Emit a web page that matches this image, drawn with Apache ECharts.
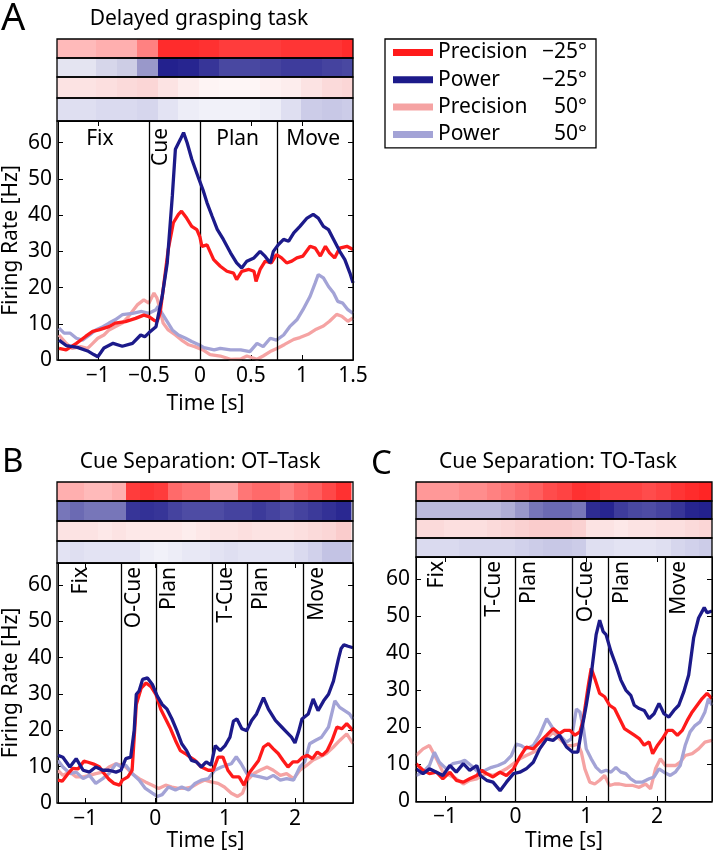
<!DOCTYPE html>
<html><head><meta charset="utf-8">
<script src="https://cdn.jsdelivr.net/npm/echarts/dist/echarts.min.js"></script>
<style>html,body{margin:0;padding:0;background:#fff}#c{width:714px;height:853px}</style>
</head><body><div id="c"></div>
<script>
// ================= DATA =================
const seriesNames = ['Precision \u221225\u00b0', 'Power \u221225\u00b0', 'Precision 50\u00b0', 'Power 50\u00b0'];
const yTicks = [0, 10, 20, 30, 40, 50, 60];
const xTicksA = [-1, -0.5, 0, 0.5, 1, 1.5];
const xTicksBC = [-1, 0, 1, 2];
const panelTitles = ['Delayed grasping task', 'Cue Separation: OT\u2013Task', 'Cue Separation: TO-Task'];
const panelLetters = ['A', 'B', 'C'];
const epochLabelsA = ['Fix', 'Cue', 'Plan', 'Move'];
const epochLabelsB = ['Fix', 'O-Cue', 'Plan', 'T-Cue', 'Plan', 'Move'];
const epochLabelsC = ['Fix', 'T-Cue', 'Plan', 'O-Cue', 'Plan', 'Move'];
const epochLinesA = [-0.5, 0, 0.76];
const epochLinesB = [-0.49, 0.01, 0.82, 1.32, 2.12];
const epochLinesC = [-0.5, 0.0, 0.8, 1.31, 2.12];

// firing rates [time s, Hz]
const A_prec25 = [[-1.38,3.2],[-1.31,2.8],[-1.21,4.6],[-1.12,6.5],[-1.05,7.9],[-0.99,8.3],[-0.89,9.2],[-0.83,10.2],[-0.73,10.6],[-0.63,11.5],[-0.55,12.4],[-0.5,12],[-0.45,11],[-0.42,10.6],[-0.39,12.9],[-0.36,19.4],[-0.31,30.5],[-0.26,37.9],[-0.21,40.2],[-0.18,41.1],[-0.13,39.2],[-0.08,36.9],[-0.03,36],[0.0,34],[0.02,31.4],[0.07,31.8],[0.135,27.7],[0.2,25.9],[0.265,24.5],[0.33,24],[0.36,22.2],[0.41,24.5],[0.48,25],[0.53,24.5],[0.55,21.7],[0.59,25],[0.64,27.3],[0.7,26.8],[0.75,29.1],[0.8,28.2],[0.85,26.8],[0.9,27.3],[0.95,28.2],[1.01,28.7],[1.08,31.4],[1.13,30.9],[1.18,28.7],[1.23,31.4],[1.27,29.6],[1.32,28.2],[1.37,30.9],[1.44,31.4],[1.5,30.5]];
const A_pow25 = [[-1.38,5.5],[-1.31,4.0],[-1.2,3.5],[-1.1,2.5],[-1.04,1.5],[-1.0,0.9],[-0.94,3.3],[-0.85,4.6],[-0.76,3.8],[-0.66,4.6],[-0.58,6.9],[-0.54,6.4],[-0.5,7.5],[-0.43,9.2],[-0.41,12],[-0.37,17.5],[-0.32,26.8],[-0.27,45.3],[-0.24,58.2],[-0.19,61],[-0.16,62.8],[-0.125,60],[-0.08,55.5],[-0.01,50],[0.03,47],[0.07,43.4],[0.12,39.7],[0.17,36.1],[0.23,33.3],[0.3,29.6],[0.36,26.8],[0.41,25.4],[0.46,27.3],[0.53,28.2],[0.59,30],[0.64,28.6],[0.69,26.8],[0.72,30],[0.77,31.9],[0.82,33.3],[0.87,32.8],[0.92,35.1],[0.98,36.9],[1.05,39.2],[1.11,40.2],[1.16,39.2],[1.21,36.9],[1.26,36],[1.31,33.3],[1.37,30],[1.42,27.7],[1.47,24],[1.5,21.3]];
const A_prec50 = [[-1.38,6.9],[-1.31,4.6],[-1.25,3.2],[-1.17,3.7],[-1.1,3.2],[-1.05,4.6],[-1.0,6.0],[-0.94,6.9],[-0.89,8.3],[-0.83,9.2],[-0.76,10.2],[-0.7,12],[-0.61,15.3],[-0.55,16.6],[-0.5,15.7],[-0.45,18.5],[-0.42,17.1],[-0.39,13.9],[-0.36,10.2],[-0.31,8.3],[-0.24,6.9],[-0.18,5.5],[-0.11,4.2],[-0.05,3.7],[0.03,2.8],[0.1,1.5],[0.2,1.1],[0.3,0.2],[0.4,0.3],[0.46,1.1],[0.56,0.2],[0.62,1.1],[0.7,2.5],[0.77,3.4],[0.83,4.3],[0.92,5.7],[0.98,6.2],[1.06,7.1],[1.14,8.5],[1.21,9.4],[1.27,10.7],[1.34,12.6],[1.39,12.1],[1.45,10.7],[1.5,11.6]];
const A_pow50 = [[-1.38,8.8],[-1.33,7.4],[-1.27,7.4],[-1.21,6.0],[-1.15,5.5],[-1.08,6.9],[-1.02,8.3],[-0.95,9.2],[-0.89,10.2],[-0.83,11.1],[-0.76,12.5],[-0.66,12.9],[-0.57,13.4],[-0.5,12.9],[-0.43,13.9],[-0.41,14.8],[-0.37,12.9],[-0.32,10.6],[-0.27,8.3],[-0.21,6.9],[-0.14,6.0],[-0.08,5.1],[-0.01,4.2],[0.04,3.4],[0.14,2.8],[0.2,3.2],[0.3,2.8],[0.4,2.8],[0.49,2.3],[0.56,4.6],[0.62,3.7],[0.69,6.0],[0.75,5.5],[0.82,6.9],[0.88,9.2],[0.95,11.1],[1.01,13.9],[1.08,17.6],[1.13,21.3],[1.16,23.6],[1.21,22.7],[1.26,20.3],[1.31,18.5],[1.35,16.2],[1.4,15.7],[1.45,13.9],[1.5,12.9]];

const B_prec25 = [[-1.39,6.3],[-1.33,6.0],[-1.25,8.0],[-1.18,9.5],[-1.1,9.4],[-1.02,11.5],[-0.96,11.2],[-0.88,10.7],[-0.8,10.0],[-0.73,8.1],[-0.66,6.5],[-0.59,5.4],[-0.51,4.9],[-0.47,6.3],[-0.39,7.2],[-0.33,9.0],[-0.27,27.1],[-0.2,31.6],[-0.13,33],[-0.06,32],[0.01,29.9],[0.08,25.8],[0.15,23.1],[0.22,20.4],[0.29,17.2],[0.36,14.4],[0.43,13.6],[0.5,12.6],[0.57,11.7],[0.66,9.9],[0.76,9.0],[0.83,9.0],[0.9,12.6],[0.97,12.6],[1.04,9.0],[1.11,7.2],[1.2,7.2],[1.27,4.9],[1.34,8.1],[1.41,9.9],[1.48,11.7],[1.55,15.4],[1.62,16.3],[1.69,14.9],[1.76,13.6],[1.83,11.7],[1.9,9.9],[1.97,11.3],[2.04,11.3],[2.11,12.6],[2.18,13.1],[2.25,12.2],[2.32,14],[2.39,13.1],[2.46,14.4],[2.53,17.2],[2.6,20.9],[2.67,20.4],[2.74,21.8],[2.83,19.9]];
const B_pow25 = [[-1.39,13.1],[-1.32,12.6],[-1.22,9.9],[-1.13,12.2],[-1.03,9.0],[-0.94,8.5],[-0.85,9.9],[-0.75,9.0],[-0.66,9.0],[-0.56,8.5],[-0.49,9.0],[-0.42,12.2],[-0.35,12.6],[-0.3,20],[-0.27,29.9],[-0.23,30.8],[-0.18,34],[-0.11,34.4],[-0.04,32.6],[0.03,29.4],[0.1,27.1],[0.17,25.8],[0.24,23.1],[0.31,19.9],[0.38,16.3],[0.45,14.4],[0.52,11.7],[0.59,11.3],[0.66,9.9],[0.73,11.3],[0.8,10.4],[0.86,15.8],[0.93,14.4],[1.0,15.8],[1.07,18.1],[1.12,22.5],[1.17,23.1],[1.24,20.4],[1.31,19.9],[1.38,22.7],[1.45,24.5],[1.55,29],[1.62,25.8],[1.72,22.7],[1.81,20.9],[1.88,19.5],[1.95,18.1],[2.0,16.5],[2.05,19.5],[2.1,23.1],[2.19,24.5],[2.26,28.6],[2.33,25.4],[2.41,28.1],[2.48,29.9],[2.55,33.5],[2.62,39.5],[2.66,42.5],[2.7,43.5],[2.76,43.1],[2.83,42.7]];
const B_prec50 = [[-1.39,9],[-1.32,7.6],[-1.22,8.5],[-1.13,7.2],[-1.03,7.2],[-0.94,7.6],[-0.85,8.1],[-0.75,8.5],[-0.66,9.9],[-0.56,10.8],[-0.49,10.4],[-0.42,9.9],[-0.33,8.1],[-0.23,6.7],[-0.14,5.8],[-0.04,4.9],[0.05,4.0],[0.15,4.9],[0.24,4.4],[0.33,4.0],[0.43,4.0],[0.52,4.4],[0.61,5.4],[0.71,6.3],[0.8,5.8],[0.9,5.4],[0.99,4.4],[1.09,2.7],[1.18,1.8],[1.25,2.7],[1.32,6.3],[1.41,8.1],[1.5,9],[1.6,9.9],[1.69,9],[1.79,7.6],[1.88,8.1],[1.98,6.7],[2.07,9],[2.17,10.4],[2.26,11.8],[2.36,12.7],[2.45,13.6],[2.55,15.4],[2.64,17.2],[2.74,19],[2.83,16.3]];
const B_pow50 = [[-1.39,11.7],[-1.32,9.9],[-1.22,8.1],[-1.13,8.5],[-1.03,6.7],[-0.94,7.6],[-0.85,5.4],[-0.75,6.7],[-0.66,8.1],[-0.56,10.8],[-0.49,9.9],[-0.42,10.4],[-0.33,8.1],[-0.23,6.3],[-0.14,4],[-0.04,2.7],[0.03,1.8],[0.1,2.3],[0.19,4.4],[0.29,3.6],[0.38,4.4],[0.48,3.6],[0.57,5.4],[0.66,6.3],[0.76,6.7],[0.85,9],[0.95,9.9],[1.02,10.4],[1.09,10.8],[1.16,12.7],[1.23,10.8],[1.31,8.1],[1.4,7.6],[1.5,7.2],[1.6,6.7],[1.69,7.6],[1.79,6.3],[1.88,6.7],[1.98,6.3],[2.07,9.9],[2.14,11.3],[2.21,16.3],[2.29,17.2],[2.38,18.1],[2.48,20.9],[2.57,28.1],[2.64,26.3],[2.71,25.4],[2.78,24.5],[2.83,23.1]];

const C_prec25 = [[-1.41,10.1],[-1.31,8.3],[-1.22,7.4],[-1.12,7.8],[-1.03,6.0],[-0.93,7.8],[-0.84,5.6],[-0.74,5.1],[-0.65,6.0],[-0.55,6.9],[-0.48,8.3],[-0.41,7.4],[-0.32,6.5],[-0.22,7.8],[-0.13,6.9],[-0.03,8.7],[0.06,11.9],[0.15,14.6],[0.25,14.1],[0.34,15.9],[0.44,17.8],[0.53,19.6],[0.62,18.2],[0.69,19.1],[0.77,19.1],[0.84,17.8],[0.91,18.7],[0.96,22.3],[1.03,31.4],[1.07,35.9],[1.12,33.2],[1.19,29.1],[1.26,28.2],[1.33,25.9],[1.4,25],[1.47,22.3],[1.54,19.6],[1.61,18.7],[1.68,17.8],[1.75,16.9],[1.82,15.1],[1.89,16.0],[1.94,12.8],[2.01,15.1],[2.08,16.9],[2.15,19.1],[2.22,19.1],[2.29,17.8],[2.36,19.1],[2.43,21.8],[2.5,24.1],[2.57,25.9],[2.64,27.7],[2.71,29.1],[2.78,27.7]];
const C_pow25 = [[-1.41,8.7],[-1.31,7.4],[-1.22,8.7],[-1.12,7.8],[-1.03,6.9],[-0.93,9.6],[-0.84,7.8],[-0.74,10.1],[-0.65,8.3],[-0.55,9.6],[-0.5,6.9],[-0.41,5.6],[-0.32,5.1],[-0.22,2.8],[-0.13,5.1],[-0.03,7.4],[0.06,7.8],[0.15,8.7],[0.25,10.5],[0.34,14.1],[0.44,16.8],[0.53,16.4],[0.62,17.8],[0.72,14.6],[0.81,13.2],[0.88,13.2],[0.93,18.7],[1.0,25.9],[1.07,34.1],[1.14,45],[1.19,48.9],[1.24,45.8],[1.28,45],[1.35,40.4],[1.42,36.8],[1.49,32.7],[1.56,30],[1.63,28.6],[1.68,25.9],[1.75,25],[1.82,24.5],[1.89,22.3],[1.96,23.6],[2.03,26.4],[2.1,23.6],[2.17,22.7],[2.24,24.5],[2.31,25.9],[2.38,29.5],[2.45,34.1],[2.52,44.1],[2.59,49.5],[2.67,52.3],[2.71,50.9],[2.78,51.4]];
const C_prec50 = [[-1.41,12.3],[-1.31,14.1],[-1.22,15],[-1.12,11.4],[-1.03,7.8],[-0.93,6.9],[-0.84,6.0],[-0.74,4.6],[-0.65,5.6],[-0.55,6.0],[-0.48,6.9],[-0.41,7.4],[-0.32,6.9],[-0.22,7.8],[-0.13,8.7],[-0.03,10.1],[0.06,11.4],[0.15,12.3],[0.25,13.2],[0.34,14.1],[0.44,16.8],[0.53,18.7],[0.62,16.8],[0.72,15.0],[0.81,15.0],[0.88,15.4],[0.93,13.2],[0.98,8.7],[1.05,5.1],[1.12,4.6],[1.19,5.6],[1.26,6.9],[1.33,4.2],[1.4,4.6],[1.47,4.6],[1.56,4.2],[1.66,4.2],[1.75,3.7],[1.84,4.6],[1.91,3.3],[1.98,8.7],[2.05,11.4],[2.12,9.6],[2.19,9.6],[2.26,9.6],[2.33,10.5],[2.4,12.3],[2.5,12.8],[2.59,14.1],[2.68,15.9],[2.78,16.4]];
const C_pow50 = [[-1.41,6.9],[-1.31,7.8],[-1.22,9.6],[-1.15,13.2],[-1.08,10.5],[-0.98,8.7],[-0.89,10.1],[-0.79,10.5],[-0.72,11.0],[-0.63,9.6],[-0.53,7.8],[-0.43,8.3],[-0.34,9.1],[-0.25,9.6],[-0.15,10.5],[-0.06,12.3],[0.01,15.4],[0.08,15.0],[0.15,14.1],[0.25,15.0],[0.34,17.8],[0.44,22.3],[0.53,19.6],[0.62,17.8],[0.72,15.9],[0.79,16.8],[0.86,24.9],[0.91,24.1],[0.96,19.6],[1.0,14.1],[1.07,11.4],[1.14,9.1],[1.21,7.8],[1.28,8.3],[1.35,7.8],[1.42,9.1],[1.49,7.8],[1.56,7.4],[1.63,6.0],[1.7,5.1],[1.79,5.1],[1.89,6.0],[1.96,6.5],[2.03,8.7],[2.1,7.8],[2.19,6.9],[2.26,7.8],[2.33,9.6],[2.4,15.0],[2.47,18.7],[2.54,20.4],[2.61,21.4],[2.68,24.1],[2.73,27.7],[2.78,25.9]];

// raster dot density per 0.2 s bin (0 = empty, 1 = solid), rows: Precision -25, Power -25, Precision 50, Power 50
const rasterBinsA = [-1.4,-1.2,-1.0,-0.8,-0.6,-0.4,-0.2,0.0,0.2,0.4,0.6,0.8,1.0,1.2,1.4];
const rasterBinsBC = [-1.4,-1.2,-1.0,-0.8,-0.6,-0.4,-0.2,0.0,0.2,0.4,0.6,0.8,1.0,1.2,1.4,1.6,1.8,2.0,2.2,2.4,2.6];
const A_rasterPrec25 = [0.3,0.3,0.35,0.35,0.55,0.92,0.92,0.9,0.85,0.85,0.85,0.88,0.88,0.88,0.92];
const A_rasterPow25  = [0.12,0.12,0.18,0.22,0.45,0.97,0.95,0.88,0.8,0.8,0.82,0.85,0.85,0.82,0.8];
const A_rasterPrec50 = [0.3,0.3,0.35,0.4,0.45,0.3,0.2,0.12,0.1,0.1,0.15,0.2,0.3,0.4,0.45];
const A_rasterPow50  = [0.35,0.35,0.4,0.4,0.45,0.3,0.2,0.15,0.15,0.15,0.2,0.35,0.55,0.6,0.55];
const B_rasterPrec25 = [0.35,0.35,0.3,0.3,0.35,0.85,0.88,0.85,0.65,0.6,0.6,0.4,0.4,0.6,0.65,0.65,0.55,0.65,0.7,0.8,0.9];
const B_rasterPow25  = [0.6,0.65,0.6,0.6,0.6,0.88,0.9,0.88,0.82,0.78,0.78,0.78,0.82,0.82,0.86,0.82,0.78,0.82,0.86,0.9,0.94];
const B_rasterPrec50 = [0.3,0.3,0.3,0.25,0.3,0.25,0.25,0.25,0.25,0.2,0.25,0.3,0.3,0.35,0.3,0.3,0.3,0.35,0.4,0.45,0.55];
const B_rasterPow50  = [0.3,0.35,0.3,0.3,0.3,0.3,0.2,0.15,0.2,0.25,0.25,0.3,0.35,0.3,0.3,0.3,0.3,0.4,0.5,0.65,0.65];
const C_rasterPrec25 = [0.45,0.45,0.45,0.5,0.5,0.55,0.6,0.65,0.7,0.78,0.82,0.9,0.88,0.82,0.82,0.82,0.78,0.82,0.88,0.92,0.95];
const C_rasterPow25  = [0.3,0.3,0.3,0.3,0.3,0.3,0.35,0.45,0.6,0.65,0.65,0.6,0.92,0.95,0.85,0.8,0.78,0.82,0.88,0.95,0.97];
const C_rasterPrec50 = [0.4,0.4,0.35,0.35,0.35,0.4,0.45,0.5,0.55,0.55,0.55,0.5,0.3,0.3,0.25,0.3,0.3,0.35,0.35,0.4,0.45];
const C_rasterPow50  = [0.4,0.4,0.4,0.45,0.45,0.45,0.45,0.5,0.55,0.6,0.6,0.55,0.35,0.35,0.3,0.3,0.3,0.35,0.45,0.5,0.55];

// ================= LAYOUT / STYLE =================
const COLORS = ['#ff1a1a', '#1c1a8a', '#f5a3a3', '#a3a3d6'];
const FONT = 'Noto Sans';
const FS = 21;
const YMAX = 66;
const panels = [
  { left: 57, right: 353, rows: [39, 58, 77, 98, 121], bottom: 360, xMin: -1.39, xMax: 1.5, xTicks: xTicksA,
    lines: [A_prec25, A_pow25, A_prec50, A_pow50], raster: [A_rasterPrec25, A_rasterPow25, A_rasterPrec50, A_rasterPow50], bins: rasterBinsA,
    epochs: epochLinesA, epochLabels: epochLabelsA, yName: 'Firing Rate [Hz]', xNameGap: 34,
    labelPos: [{t: -0.98, rot: false}, {t: -0.5, rot: true, dx: 2, dy: 7}, {t: 0.37, rot: false}, {t: 1.11, rot: false}],
    letter: {x: 1, y: 19, size: 38}, title: {x: 199, y: 19} },
  { left: 57, right: 353, rows: [482, 501, 521, 541, 563], bottom: 803, xMin: -1.39, xMax: 2.83, xTicks: xTicksBC,
    lines: [B_prec25, B_pow25, B_prec50, B_pow50], raster: [B_rasterPrec25, B_rasterPow25, B_rasterPrec50, B_rasterPow50], bins: rasterBinsBC,
    epochs: epochLinesB, epochLabels: epochLabelsB, yName: 'Firing Rate [Hz]', xNameGap: 22,
    labelPos: [{t: -1.39, rot: true, dx: 13, dy: 4}, {t: -0.49, rot: true, dx: 3, dy: 4}, {t: 0.01, rot: true, dx: 3, dy: 4}, {t: 0.82, rot: true, dx: 3, dy: 4}, {t: 1.32, rot: true, dx: 3, dy: 4}, {t: 2.12, rot: true, dx: 3, dy: 4}],
    letter: {x: 2, y: 463, size: 33}, title: {x: 200, y: 462} },
  { left: 416, right: 712, rows: [482, 501, 519, 538, 557], bottom: 802, xMin: -1.41, xMax: 2.78, xTicks: xTicksBC,
    lines: [C_prec25, C_pow25, C_prec50, C_pow50], raster: [C_rasterPrec25, C_rasterPow25, C_rasterPrec50, C_rasterPow50], bins: rasterBinsBC,
    epochs: epochLinesC, epochLabels: epochLabelsC, yName: '', xNameGap: 30,
    labelPos: [{t: -1.41, rot: true, dx: 11, dy: 4}, {t: -0.5, rot: true, dx: 3, dy: 4}, {t: 0.0, rot: true, dx: 3, dy: 4}, {t: 0.8, rot: true, dx: 3, dy: 4}, {t: 1.31, rot: true, dx: 3, dy: 4}, {t: 2.12, rot: true, dx: 3, dy: 4}],
    letter: {x: 371, y: 465, size: 33}, title: {x: 558, y: 462} }
];

function tint(hex, d) {
  const r = parseInt(hex.slice(1, 3), 16), g = parseInt(hex.slice(3, 5), 16), b = parseInt(hex.slice(5, 7), 16);
  const m = c => Math.round(255 * (1 - d) + c * d);
  return 'rgb(' + m(r) + ',' + m(g) + ',' + m(b) + ')';
}
const fmtX = v => (v < 0 ? '\u2212' + Math.abs(v) : String(v));

const grid = [], xAxis = [], yAxis = [], series = [];
const lineGridIdx = [];
panels.forEach((p, pi) => {
  const w = p.right - p.left;
  const binW = p.bins[1] - p.bins[0];
  for (let r = 0; r < 4; r++) {
    const gi = grid.length;
    grid.push({ left: p.left, width: w, top: p.rows[r], height: p.rows[r + 1] - p.rows[r] });
    xAxis.push({ type: 'value', gridIndex: gi, min: p.xMin, max: p.xMax, show: false });
    yAxis.push({ type: 'value', gridIndex: gi, min: 0, max: 1, show: false });
    const col = COLORS[r];
    series.push({
      type: 'custom', name: 'raster' + pi + '_' + r, xAxisIndex: xAxis.length - 1, yAxisIndex: yAxis.length - 1,
      silent: true,
      data: p.bins.map((b, i) => [b, b + binW, p.raster[r][i]]),
      renderItem: (params, api) => {
        const a = api.coord([api.value(0), 1]);
        const c = api.coord([api.value(1), 0]);
        const cs = params.coordSys;
        const rect = echarts.graphic.clipRectByRect(
          { x: Math.floor(a[0]), y: a[1], width: Math.ceil(c[0]) - Math.floor(a[0]) + 0.5, height: c[1] - a[1] },
          { x: cs.x, y: cs.y, width: cs.width, height: cs.height });
        if (!rect) return null;
        return { type: 'rect', shape: rect, style: { fill: tint(col, api.value(2)) } };
      }
    });
  }
  // line plot grid
  const gi = grid.length;
  lineGridIdx.push(gi);
  grid.push({ left: p.left, width: w, top: p.rows[4], height: p.bottom - p.rows[4] });
  const tickStyle = { color: '#000', width: 1 };
  const labelStyle = { color: '#000', fontSize: FS, fontFamily: FONT };
  const xi = xAxis.length;
  xAxis.push({
    type: 'value', gridIndex: gi, min: p.xMin, max: p.xMax, position: 'bottom',
    axisLine: { show: true, onZero: false, lineStyle: { color: '#000' } },
    axisTick: { show: true, inside: true, length: 5, customValues: p.xTicks, lineStyle: tickStyle },
    axisLabel: Object.assign({ customValues: p.xTicks, formatter: fmtX, margin: 6, hideOverlap: false }, labelStyle),
    splitLine: { show: false },
    name: 'Time [s]', nameLocation: 'middle', nameGap: p.xNameGap, nameTextStyle: labelStyle
  });
  xAxis.push({
    type: 'value', gridIndex: gi, min: p.xMin, max: p.xMax, position: 'top',
    axisLine: { show: true, onZero: false, lineStyle: { color: '#000' } },
    axisTick: { show: true, inside: true, length: 5, customValues: p.xTicks, lineStyle: tickStyle },
    axisLabel: { show: false }, splitLine: { show: false }
  });
  const yi = yAxis.length;
  yAxis.push({
    type: 'value', gridIndex: gi, min: 0, max: YMAX, position: 'left',
    axisLine: { show: true, onZero: false, lineStyle: { color: '#000' } },
    axisTick: { show: true, inside: true, length: 5, customValues: yTicks, lineStyle: tickStyle },
    axisLabel: Object.assign({ customValues: yTicks, margin: 6 }, labelStyle),
    splitLine: { show: false },
    name: p.yName, nameLocation: 'middle', nameGap: 36, nameTextStyle: labelStyle
  });
  yAxis.push({
    type: 'value', gridIndex: gi, min: 0, max: YMAX, position: 'right',
    axisLine: { show: true, onZero: false, lineStyle: { color: '#000' } },
    axisTick: { show: true, inside: true, length: 5, customValues: yTicks, lineStyle: tickStyle },
    axisLabel: { show: false }, splitLine: { show: false }
  });
  [2, 3, 0, 1].forEach((k, n) => {
    const s = {
      type: 'line', name: seriesNames[k], xAxisIndex: xi, yAxisIndex: yi,
      data: p.lines[k], showSymbol: false, symbol: 'none', clip: true, silent: true,
      lineStyle: { width: 3.3, color: COLORS[k] }, itemStyle: { color: COLORS[k] }, z: 3 + n
    };
    if (n === 0) {
      s.markLine = {
        silent: true, symbol: ['none', 'none'], label: { show: false },
        lineStyle: { color: '#000', width: 1.3, type: 'solid' },
        data: p.epochs.map(x => ({ xAxis: x }))
      };
    }
    series.push(s);
  });
});

const option = {
  animation: false,
  backgroundColor: '#fff',
  textStyle: { fontFamily: FONT },
  grid, xAxis, yAxis, series,
  legend: {
    data: seriesNames, orient: 'vertical', left: 385, top: 39,
    icon: 'rect', itemWidth: 40, itemHeight: 7, itemGap: 6.3,
    padding: [3, 9, 3, 8], borderColor: '#000', borderWidth: 1.3,
    selectedMode: false,
    formatter: name => {
      const i = name.lastIndexOf(' ');
      return '{a|' + name.slice(0, i) + '}{b|' + name.slice(i + 1) + '}';
    },
    textStyle: {
      rich: {
        a: { width: 101, fontSize: FS, fontFamily: FONT, color: '#000', lineHeight: 20 },
        b: { width: 48, align: 'right', fontSize: FS, fontFamily: FONT, color: '#000', lineHeight: 20 }
      }
    }
  }
};

const chart = echarts.init(document.getElementById('c'));
chart.setOption(option);

// overlay: frames, titles, epoch labels
const graphic = [];
panels.forEach((p, pi) => {
  const w = p.right - p.left;
  for (let r = 0; r < 4; r++) {
    graphic.push({ type: 'rect', z: 100, silent: true,
      shape: { x: p.left, y: p.rows[r], width: w, height: p.rows[r + 1] - p.rows[r] },
      style: { fill: null, stroke: '#000', lineWidth: 1.3 } });
  }
  graphic.push({ type: 'rect', z: 100, silent: true,
    shape: { x: p.left, y: p.rows[4], width: w, height: p.bottom - p.rows[4] },
    style: { fill: null, stroke: '#000', lineWidth: 1.3 } });
  graphic.push({ type: 'text', z: 100, silent: true, x: p.letter.x, y: p.letter.y,
    style: { text: panelLetters[pi], font: p.letter.size + 'px "' + FONT + '"', fill: '#000', align: 'left', verticalAlign: 'middle' } });
  graphic.push({ type: 'text', z: 100, silent: true, x: p.title.x, y: p.title.y,
    style: { text: panelTitles[pi], font: FS + 'px "' + FONT + '"', fill: '#000', align: 'center', verticalAlign: 'middle' } });
  const gi = lineGridIdx[pi];
  p.epochLabels.forEach((txt, i) => {
    const lp = p.labelPos[i];
    if (lp.rot) {
      const px = chart.convertToPixel({ gridIndex: gi }, [lp.t, YMAX]);
      graphic.push({ type: 'text', z: 100, silent: true, x: px[0] + lp.dx, y: px[1] + lp.dy, rotation: Math.PI / 2,
        style: { text: txt, font: FS + 'px "' + FONT + '"', fill: '#000', align: 'right', verticalAlign: 'top' } });
    } else {
      const px = chart.convertToPixel({ gridIndex: gi }, [lp.t, 61]);
      graphic.push({ type: 'text', z: 100, silent: true, x: px[0], y: px[1],
        style: { text: txt, font: FS + 'px "' + FONT + '"', fill: '#000', align: 'center', verticalAlign: 'middle' } });
    }
  });
});
chart.setOption({ graphic });
</script>
</body></html>
